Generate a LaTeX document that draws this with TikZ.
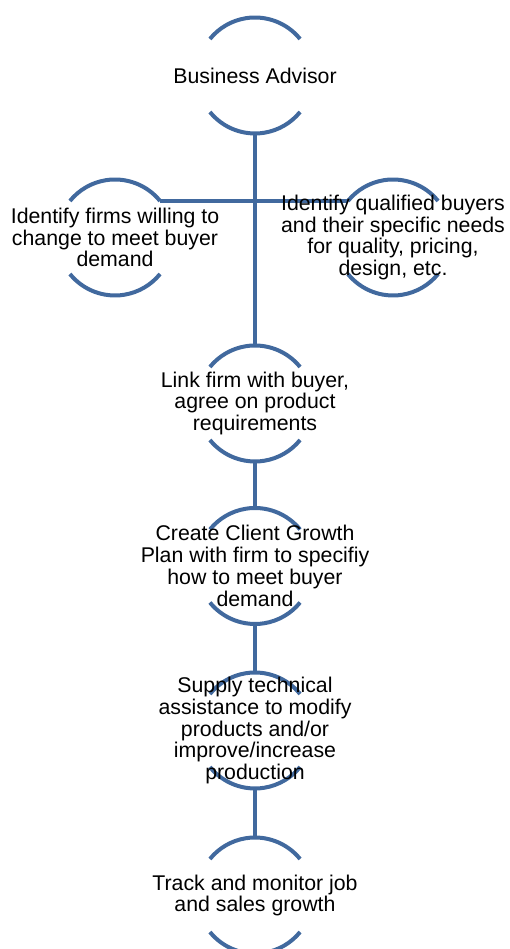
\documentclass[tikz,border=0pt]{standalone}
\usepackage{fontspec}
\setmainfont{Liberation Sans}
\definecolor{flowblue}{HTML}{41699E}
\begin{document}
\begin{tikzpicture}[x=1pt,y=1pt,
  ring/.style={circle, minimum size=116pt, inner sep=0pt, outer sep=0pt},
  stagetext/.style={align=center, inner sep=0pt, text=black,
    font=\fontsize{21.3}{21.8}\selectfont},
  arcline/.style={draw=flowblue, line width=4pt},
  connector/.style={draw=flowblue, line width=4pt}]
\useasboundingbox (0,0) rectangle (510,949);

% stage circles
\node[ring] (ba)     at (255,873.5) {};
\node[ring] (firms)  at (115,711.5) {};
\node[ring] (buyers) at (393,711.5) {};
\node[ring] (link)   at (255,545.5) {};
\node[ring] (plan)   at (255,383)   {};
\node[ring] (assist) at (255,218.5) {};
\node[ring] (track)  at (255,53.5)  {};

% connectors
\draw[connector] (ba.south) -- (link.north);
\draw[connector] (firms.39) -- (buyers.141);
\draw[connector] (link.south) -- (plan.north);
\draw[connector] (plan.south) -- (assist.north);
\draw[connector] (assist.south) -- (track.north);

% open rings: upper and lower arcs only
\foreach \n in {ba,firms,buyers,link,plan,assist,track}{
  \draw[arcline] (\n.39) arc[start angle=39, end angle=141, radius=58pt];
  \draw[arcline] (\n.219) arc[start angle=219, end angle=321, radius=58pt];
}

% stage texts
\node[stagetext] (ba-t)     at (ba)     {Business Advisor};
\node[stagetext] (firms-t)  at (firms)  {Identify firms willing to\\change to meet buyer\\demand};
\node[stagetext] (buyers-t) at (buyers) {Identify qualified buyers\\and their specific needs\\for quality, pricing,\\design, etc.};
\node[stagetext] (link-t)   at (link)   {Link firm with buyer,\\agree on product\\requirements};
\node[stagetext] (plan-t)   at (plan)   {Create Client Growth\\Plan with firm to specifiy\\how to meet buyer\\demand};
\node[stagetext] (assist-t) at (assist) {Supply technical\\assistance to modify\\products and/or\\improve/increase\\production};
\node[stagetext] (track-t)  at (track)  {Track and monitor job\\and sales growth};
\end{tikzpicture}
\end{document}
